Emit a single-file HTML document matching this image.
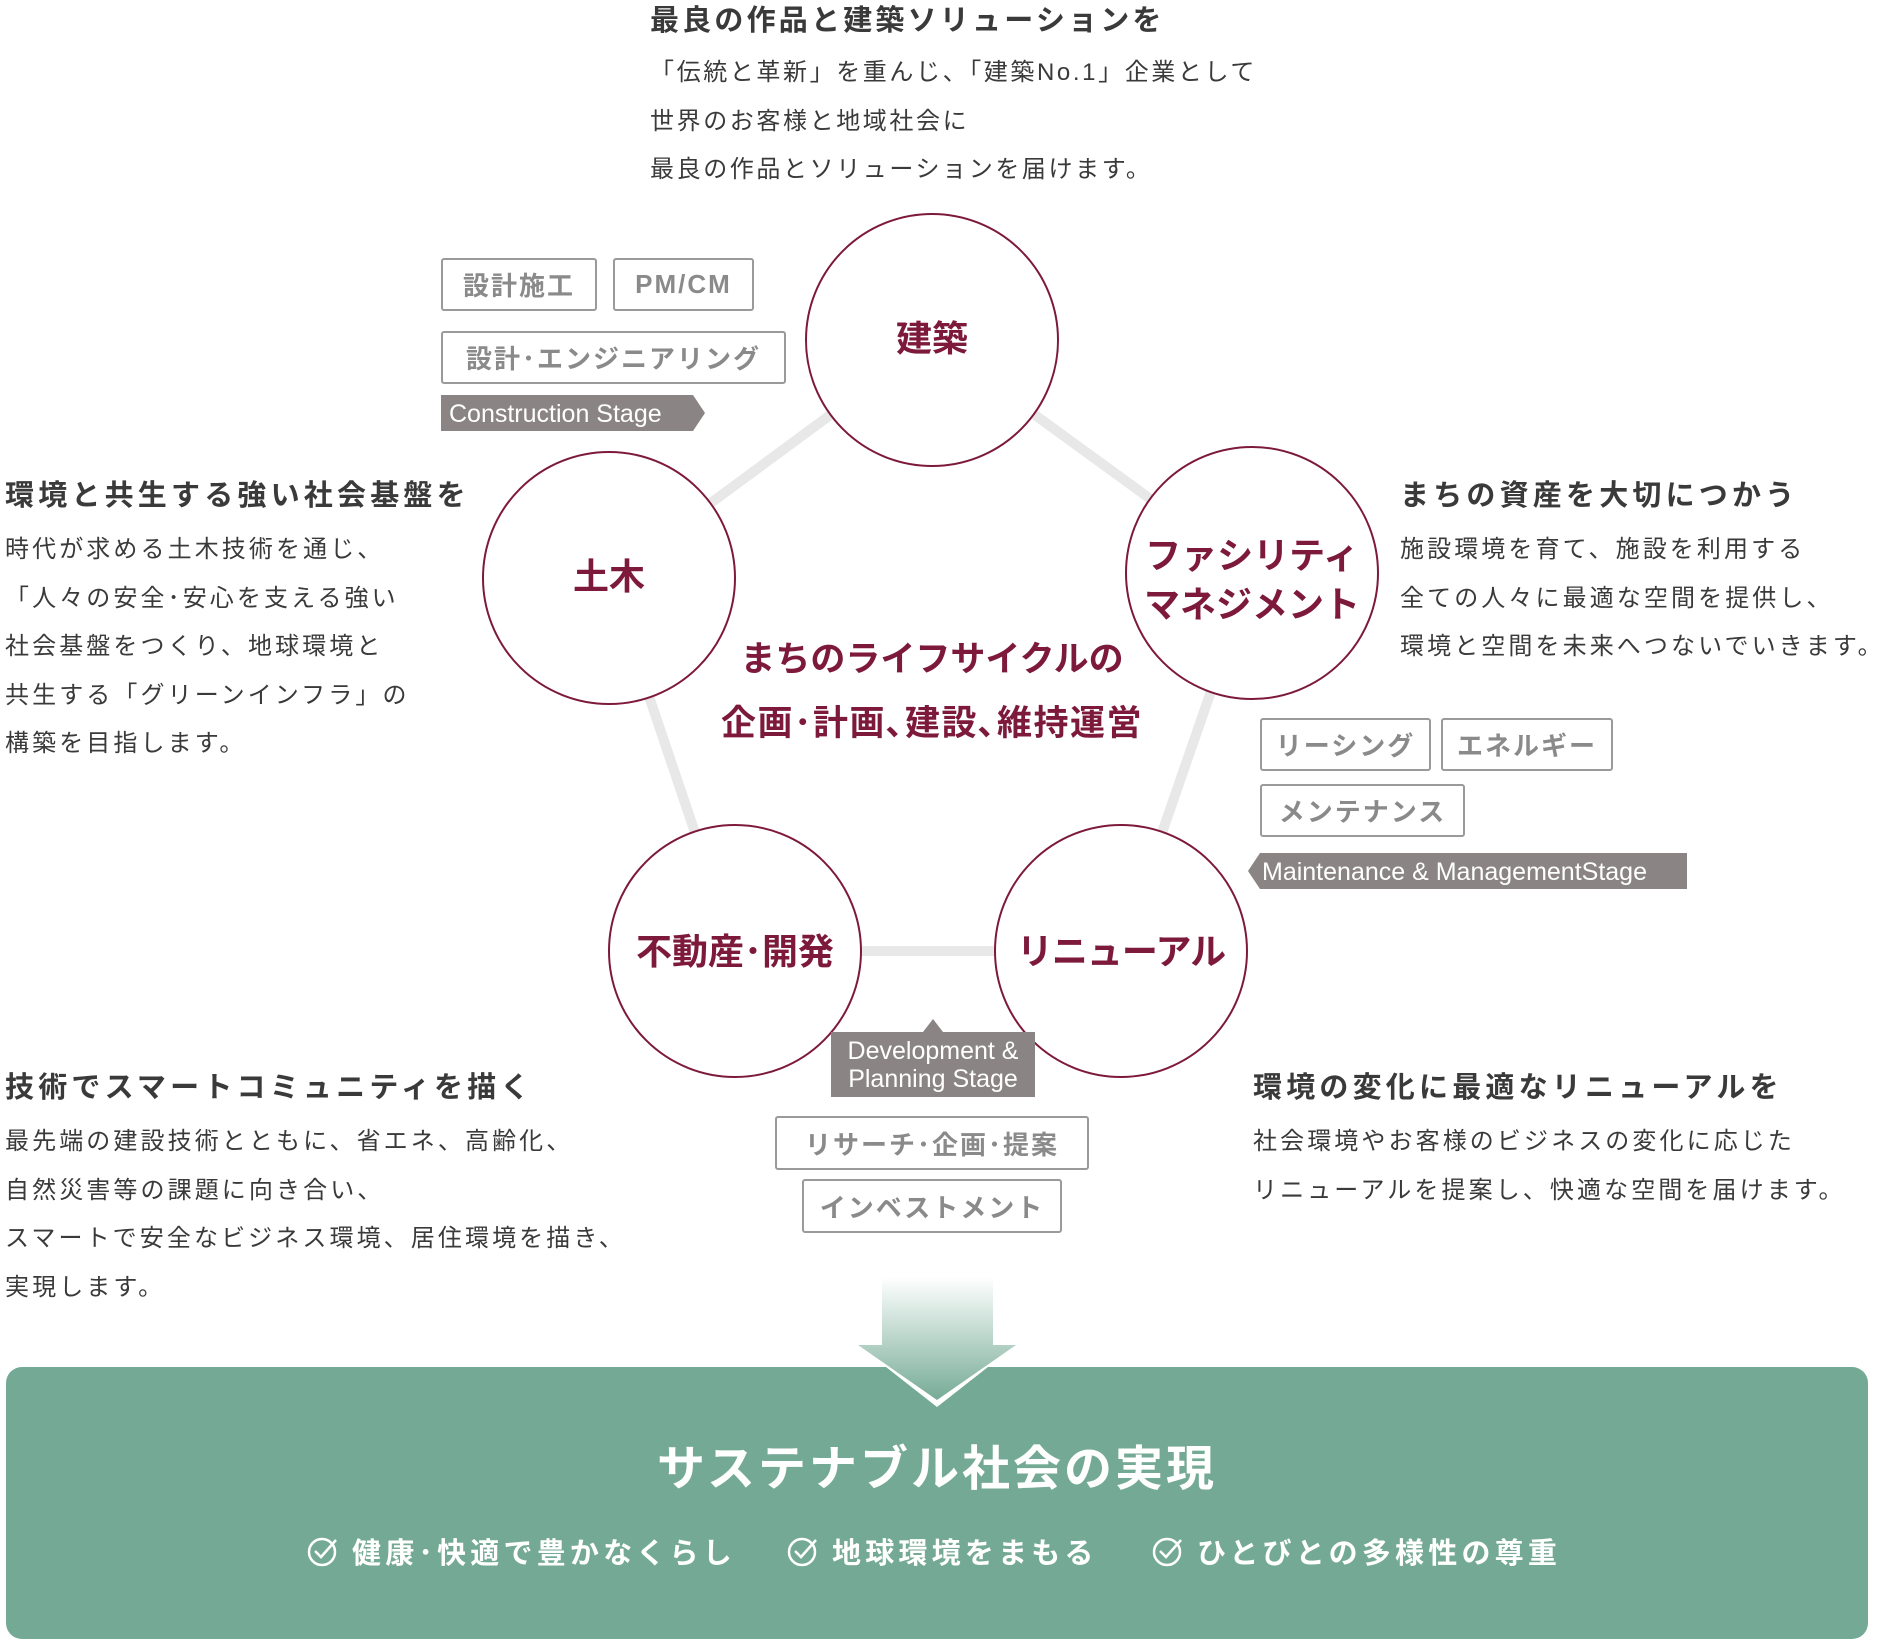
<!DOCTYPE html>
<html><head><meta charset="utf-8"><style>
body{margin:0;width:1900px;height:1640px;position:relative;background:#fff;font-family:"Liberation Sans","Noto Sans CJK JP",sans-serif;overflow:hidden;color:#3a3a3a}
.a{position:absolute;white-space:nowrap}
.h{font-size:29px;font-weight:700;letter-spacing:4.2px;color:#3a3a3a}
.p{font-size:24px;letter-spacing:3.1px;line-height:48.5px;color:#3a3a3a}
.tag{position:absolute;border:2px solid #9a9a9a;border-radius:3px;box-sizing:border-box;color:#8a8a8a;font-weight:700;font-size:26px;letter-spacing:2px;display:flex;align-items:center;justify-content:center}
.c{font-family:"Liberation Sans","Noto Sans CJK JP",sans-serif;font-weight:700;fill:#7d1a3c}
</style></head><body>
<svg class="a" style="left:0;top:0" width="1900" height="1640">
<g stroke="#e8e8e8" stroke-width="10">
<line x1="932" y1="340" x2="609" y2="578"/><line x1="932" y1="340" x2="1252" y2="573"/>
<line x1="609" y1="578" x2="735" y2="951"/><line x1="1252" y1="573" x2="1121" y2="951"/>
<line x1="735" y1="951" x2="1121" y2="951"/></g>
<g fill="#fff" stroke="#7d1a3c" stroke-width="2">
<circle cx="932" cy="340" r="126"/><circle cx="609" cy="578" r="126"/><circle cx="1252" cy="573" r="126"/>
<circle cx="735" cy="951" r="126"/><circle cx="1121" cy="951" r="126"/></g>
<text class="c" x="932" y="351" font-size="36" text-anchor="middle">建築</text>
<text class="c" x="609" y="589" font-size="36" text-anchor="middle">土木</text>
<text class="c" x="1252" y="568" font-size="36" text-anchor="middle">ファシリティ</text>
<text class="c" x="1252" y="617" font-size="36" text-anchor="middle">マネジメント</text>
<text class="c" x="735" y="964" font-size="36" text-anchor="middle">不動産･開発</text>
<text class="c" x="1121" y="964" font-size="36" text-anchor="middle" letter-spacing="-1">リニューアル</text>
<text class="c" x="932" y="671" font-size="35" text-anchor="middle">まちのライフサイクルの</text>
<text class="c" x="932" y="735" font-size="35" text-anchor="middle" letter-spacing="1.5">企画･計画､建設､維持運営</text>
<polygon points="441,395 693,395 705,413 693,431 441,431" fill="#8a8584"/>
<text x="449" y="422" font-size="25" fill="#fff">Construction Stage</text>
<polygon points="1260,853 1687,853 1687,889 1260,889 1248,871" fill="#8a8584"/>
<text x="1262" y="880" font-size="25" fill="#fff">Maintenance &amp; ManagementStage</text>
<polygon points="831,1032 923,1032 933,1019 943,1032 1035,1032 1035,1097 831,1097" fill="#8a8584"/>
<text x="933" y="1059" font-size="25" fill="#fff" text-anchor="middle">Development &amp;</text>
<text x="933" y="1087" font-size="25" fill="#fff" text-anchor="middle">Planning Stage</text>
<defs><linearGradient id="g" x1="0" y1="0" x2="0" y2="1"><stop offset="0" stop-color="#76ab96" stop-opacity="0"/><stop offset="1" stop-color="#76ab96"/></linearGradient></defs>
<rect x="6" y="1367" width="1862" height="272" rx="16" fill="#74aa95"/>
<polygon points="882,1277 993,1277 993,1345 1016,1345 937,1407 858,1345 882,1345" fill="#fff"/>
<polygon points="882,1277 993,1277 993,1345 1016,1345 937,1400 858,1345 882,1345" fill="url(#g)"/>
<text x="937" y="1485" font-size="48" font-weight="700" fill="#fff" text-anchor="middle" letter-spacing="3">サステナブル社会の実現</text>
<g fill="none" stroke="#fff" stroke-width="2.5">
<circle cx="322" cy="1552" r="13"/><polyline points="315,1551 321,1557 336,1540"/>
<circle cx="802" cy="1552" r="13"/><polyline points="795,1551 801,1557 816,1540"/>
<circle cx="1167" cy="1552" r="13"/><polyline points="1160,1551 1166,1557 1181,1540"/></g>
<g font-size="29" font-weight="700" fill="#fff" letter-spacing="4.2">
<text x="352" y="1563">健康･快適で豊かなくらし</text>
<text x="832" y="1563">地球環境をまもる</text>
<text x="1197" y="1563">ひとびとの多様性の尊重</text></g>
</svg>
<div class="a h" style="left:650px;top:-3px;letter-spacing:3.2px">最良の作品と建築ソリューションを</div>
<div class="a p" style="left:650px;top:49px;letter-spacing:2.6px">「伝統と革新」を重んじ、「建築No.1」企業として<br>世界のお客様と地域社会に<br>最良の作品とソリューションを届けます。</div>
<div class="a h" style="left:5px;top:472px">環境と共生する強い社会基盤を</div>
<div class="a p" style="left:5px;top:526px">時代が求める土木技術を通じ、<br>「人々の安全･安心を支える強い<br>社会基盤をつくり、地球環境と<br>共生する「グリーンインフラ」の<br>構築を目指します。</div>
<div class="a h" style="left:1400px;top:472px">まちの資産を大切につかう</div>
<div class="a p" style="left:1400px;top:526px">施設環境を育て、施設を利用する<br>全ての人々に最適な空間を提供し、<br>環境と空間を未来へつないでいきます。</div>
<div class="a h" style="left:5px;top:1064px">技術でスマートコミュニティを描く</div>
<div class="a p" style="left:5px;top:1118px">最先端の建設技術とともに、省エネ、高齢化、<br>自然災害等の課題に向き合い、<br>スマートで安全なビジネス環境、居住環境を描き、<br>実現します。</div>
<div class="a h" style="left:1253px;top:1064px">環境の変化に最適なリニューアルを</div>
<div class="a p" style="left:1253px;top:1118px">社会環境やお客様のビジネスの変化に応じた<br>リニューアルを提案し、快適な空間を届けます。</div>
<div class="tag" style="left:441px;top:258px;width:156px;height:53px">設計施工</div>
<div class="tag" style="left:613px;top:258px;width:141px;height:53px">PM/CM</div>
<div class="tag" style="left:441px;top:331px;width:345px;height:53px">設計･エンジニアリング</div>
<div class="tag" style="left:1260px;top:718px;width:171px;height:53px">リーシング</div>
<div class="tag" style="left:1441px;top:718px;width:172px;height:53px">エネルギー</div>
<div class="tag" style="left:1260px;top:784px;width:205px;height:53px">メンテナンス</div>
<div class="tag" style="left:775px;top:1116px;width:314px;height:54px">リサーチ･企画･提案</div>
<div class="tag" style="left:802px;top:1179px;width:260px;height:54px">インベストメント</div>
</body></html>
